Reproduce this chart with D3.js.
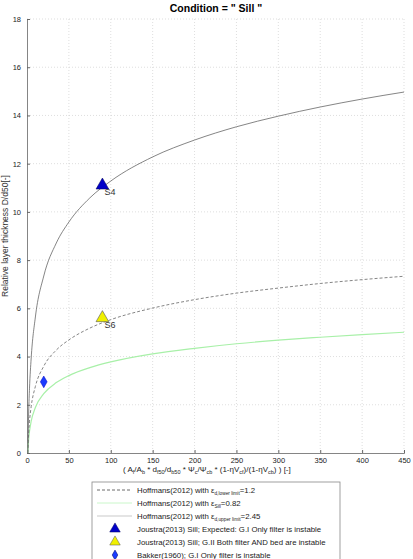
<!DOCTYPE html>
<html>
<head>
<meta charset="utf-8">
<script src="https://cdn.jsdelivr.net/npm/d3@7"></script>
<style>
  body { margin: 0; background: #fff; }
  svg { font-family: "Liberation Sans", Arial, sans-serif; }
</style>
</head>
<body>
<svg width="413" height="559"></svg>
<script>
// curve samples (x = filter ratio, y = D/d50)
var xSamples = [1, 2, 3, 5, 10, 20, 35, 50, 75, 100, 150, 200, 250, 300, 350, 400, 450];
var upper = [0, 1.70, 2.69, 3.94, 5.64, 7.34, 8.71, 9.58, 10.58, 11.28, 12.28, 12.98, 13.53, 13.97, 14.35, 14.68, 14.97];
var lower = [0, 0.83, 1.32, 1.93, 2.76, 3.60, 4.27, 4.69, 5.18, 5.53, 6.01, 6.36, 6.63, 6.84, 7.03, 7.19, 7.33];
var sill = [0, 0.57, 0.90, 1.32, 1.89, 2.46, 2.92, 3.21, 3.54, 3.78, 4.11, 4.34, 4.53, 4.68, 4.80, 4.91, 5.01];

var xTicks = [0, 50, 100, 150, 200, 250, 300, 350, 400, 450];
var yTicks = [0, 2, 4, 6, 8, 10, 12, 14, 16, 18];

var joustraG1 = [{x: 90, y: 11.1, label: "S4"}];
var joustraG2 = [{x: 90, y: 5.6, label: "S6"}];
var bakker = [{x: 20, y: 2.95}];

var svg = d3.select("svg");
var pLeft = 27, pRight = 404, pTop = 19, pBottom = 453;

var x = d3.scaleLinear().domain([0, 450]).range([pLeft, pRight]);
var y = d3.scaleLinear().domain([0, 18]).range([pBottom, pTop]);

// title
svg.append("text")
    .attr("x", 216).attr("y", 12)
    .attr("text-anchor", "middle")
    .attr("font-weight", "bold")
    .attr("font-size", 10.5)
    .text('Condition = " Sill "');

// grid
svg.append("g").selectAll("line").data(xTicks.slice(1)).enter().append("line")
    .attr("x1", function(d) { return x(d); }).attr("x2", function(d) { return x(d); })
    .attr("y1", pTop).attr("y2", pBottom)
    .attr("stroke", "#c8c8c8").attr("stroke-width", 0.6).attr("stroke-dasharray", "1,2");
svg.append("g").selectAll("line").data(yTicks.slice(1)).enter().append("line")
    .attr("x1", pLeft).attr("x2", pRight)
    .attr("y1", function(d) { return y(d); }).attr("y2", function(d) { return y(d); })
    .attr("stroke", "#c8c8c8").attr("stroke-width", 0.6).attr("stroke-dasharray", "1,2");

// axes
var xAxis = svg.append("g")
    .attr("transform", "translate(0," + pBottom + ")")
    .call(d3.axisBottom(x).tickValues(xTicks).tickSize(-3).tickPadding(5));
var yAxis = svg.append("g")
    .attr("transform", "translate(" + pLeft + ",0)")
    .call(d3.axisLeft(y).tickValues(yTicks).tickSize(-3).tickPadding(6));
[xAxis, yAxis].forEach(function(a) {
    a.select(".domain").attr("stroke", "#666").attr("stroke-width", 0.8);
    a.selectAll(".tick line").attr("stroke", "#666");
    a.selectAll("text").attr("font-size", 7.5).attr("fill", "#222")
        .attr("font-family", "Liberation Sans, Arial, sans-serif");
});

// y label
svg.append("text")
    .attr("transform", "translate(8,236) rotate(-90)")
    .attr("text-anchor", "middle")
    .attr("font-size", 8.5)
    .attr("fill", "#333")
    .text("Relative layer thickness D/d50[-]");

// x label
var xl = svg.append("text")
    .attr("x", 123).attr("y", 472)
    .attr("font-size", 8)
    .attr("fill", "#222");
var xlParts = [["( A", 0], ["f", 1], ["/A", 0], ["b", 1], [" * d", 0], ["f50", 1], ["/d", 0], ["b50", 1],
    [" * \u03A8", 0], ["c", 1], ["/\u03A8", 0], ["cb", 1], [" * (1-\u03B7V", 0], ["cf", 1],
    [")/(1-\u03B7V", 0], ["cb", 1], [") )     [-]", 0]];
xlParts.forEach(function(p, i) {
    if (p[1]) xl.append("tspan").attr("font-size", 5.5).attr("dy", 2).text(p[0]);
    else xl.append("tspan").attr("font-size", 8).attr("dy", i === 0 ? 0 : -2).text(p[0]);
});

// curves
var line = d3.line()
    .x(function(d) { return x(d[0]); })
    .y(function(d) { return y(d[1]); })
    .curve(d3.curveMonotoneX);

function pts(vals) { return xSamples.map(function(v, i) { return [v, vals[i]]; }); }

svg.append("path").datum(pts(sill)).attr("d", line)
    .attr("fill", "none").attr("stroke", "#a8f0a8").attr("stroke-width", 1.2);
svg.append("path").datum(pts(lower)).attr("d", line)
    .attr("fill", "none").attr("stroke", "#777").attr("stroke-width", 0.9).attr("stroke-dasharray", "3,2");
svg.append("path").datum(pts(upper)).attr("d", line)
    .attr("fill", "none").attr("stroke", "#666").attr("stroke-width", 0.8);

// markers
var tri = d3.symbol().type(d3.symbolTriangle).size(70);
var triSmall = d3.symbol().type(d3.symbolTriangle).size(48);
var dia = d3.symbol().type(d3.symbolDiamond).size(40);
var diaSmall = d3.symbol().type(d3.symbolDiamond).size(28);

svg.selectAll(".g1").data(joustraG1).enter().append("path")
    .attr("transform", function(d) { return "translate(" + x(d.x) + "," + y(d.y) + ")"; })
    .attr("d", tri).attr("fill", "#0000c8").attr("stroke", "#000050").attr("stroke-width", 0.5);
svg.selectAll(".g2").data(joustraG2).enter().append("path")
    .attr("transform", function(d) { return "translate(" + x(d.x) + "," + y(d.y) + ")"; })
    .attr("d", tri).attr("fill", "#f0f000").attr("stroke", "#555").attr("stroke-width", 0.6);
svg.selectAll(".bk").data(bakker).enter().append("path")
    .attr("transform", function(d) { return "translate(" + x(d.x) + "," + y(d.y) + ")"; })
    .attr("d", dia).attr("fill", "#1a3cff").attr("stroke", "#0000c0").attr("stroke-width", 0.5);

svg.selectAll(".lbl").data(joustraG1.concat(joustraG2)).enter().append("text")
    .attr("x", function(d) { return x(d.x) + 2; })
    .attr("y", function(d) { return y(d.y) + 10; })
    .attr("font-size", 9).attr("fill", "#333")
    .text(function(d) { return d.label; });

// legend
var lg = svg.append("g");
lg.append("rect").attr("x", 92).attr("y", 482).attr("width", 248).attr("height", 90)
    .attr("fill", "#fff").attr("stroke", "#888").attr("stroke-width", 0.8);

var legendRows = [
    {kind: "line", stroke: "#444", dash: "3,2", pre: "Hoffmans(2012) with \u03B5", sub: "d,lower limit", post: "=1.2"},
    {kind: "line", stroke: "#bdf5bd", dash: null, pre: "Hoffmans(2012) with \u03B5", sub: "Sill", post: "=0.82"},
    {kind: "line", stroke: "#bbb", dash: null, pre: "Hoffmans(2012) with \u03B5", sub: "d,upper limit", post: "=2.45"},
    {kind: "tri", fill: "#0000c8", text: "Joustra(2013) Sill; Expected: G.I Only filter is instable"},
    {kind: "tri", fill: "#f0f000", text: "Joustra(2013) Sill; G.II Both filter AND bed are instable"},
    {kind: "dia", fill: "#1a3cff", text: "Bakker(1960); G.I Only filter is instable"}
];

legendRows.forEach(function(r, i) {
    var yy = 490 + i * 13;
    if (r.kind === "line") {
        var l = lg.append("line").attr("x1", 97).attr("x2", 132).attr("y1", yy).attr("y2", yy)
            .attr("stroke", r.stroke).attr("stroke-width", 0.8);
        if (r.dash) l.attr("stroke-dasharray", r.dash);
        var t = lg.append("text").attr("x", 137).attr("y", yy + 2.5).attr("font-size", 7.8).attr("fill", "#222");
        t.append("tspan").text(r.pre);
        t.append("tspan").attr("font-size", 4.8).attr("dy", 2).text(r.sub);
        t.append("tspan").attr("dy", -2).text(r.post);
    } else {
        lg.append("path").attr("transform", "translate(115," + yy + ")")
            .attr("d", r.kind === "tri" ? triSmall : diaSmall)
            .attr("fill", r.fill).attr("stroke", r.kind === "tri" && r.fill === "#f0f000" ? "#555" : "#000060")
            .attr("stroke-width", 0.5);
        lg.append("text").attr("x", 137).attr("y", yy + 2.5).attr("font-size", 7.8).attr("fill", "#222")
            .text(r.text);
    }
});
</script>
</body>
</html>
